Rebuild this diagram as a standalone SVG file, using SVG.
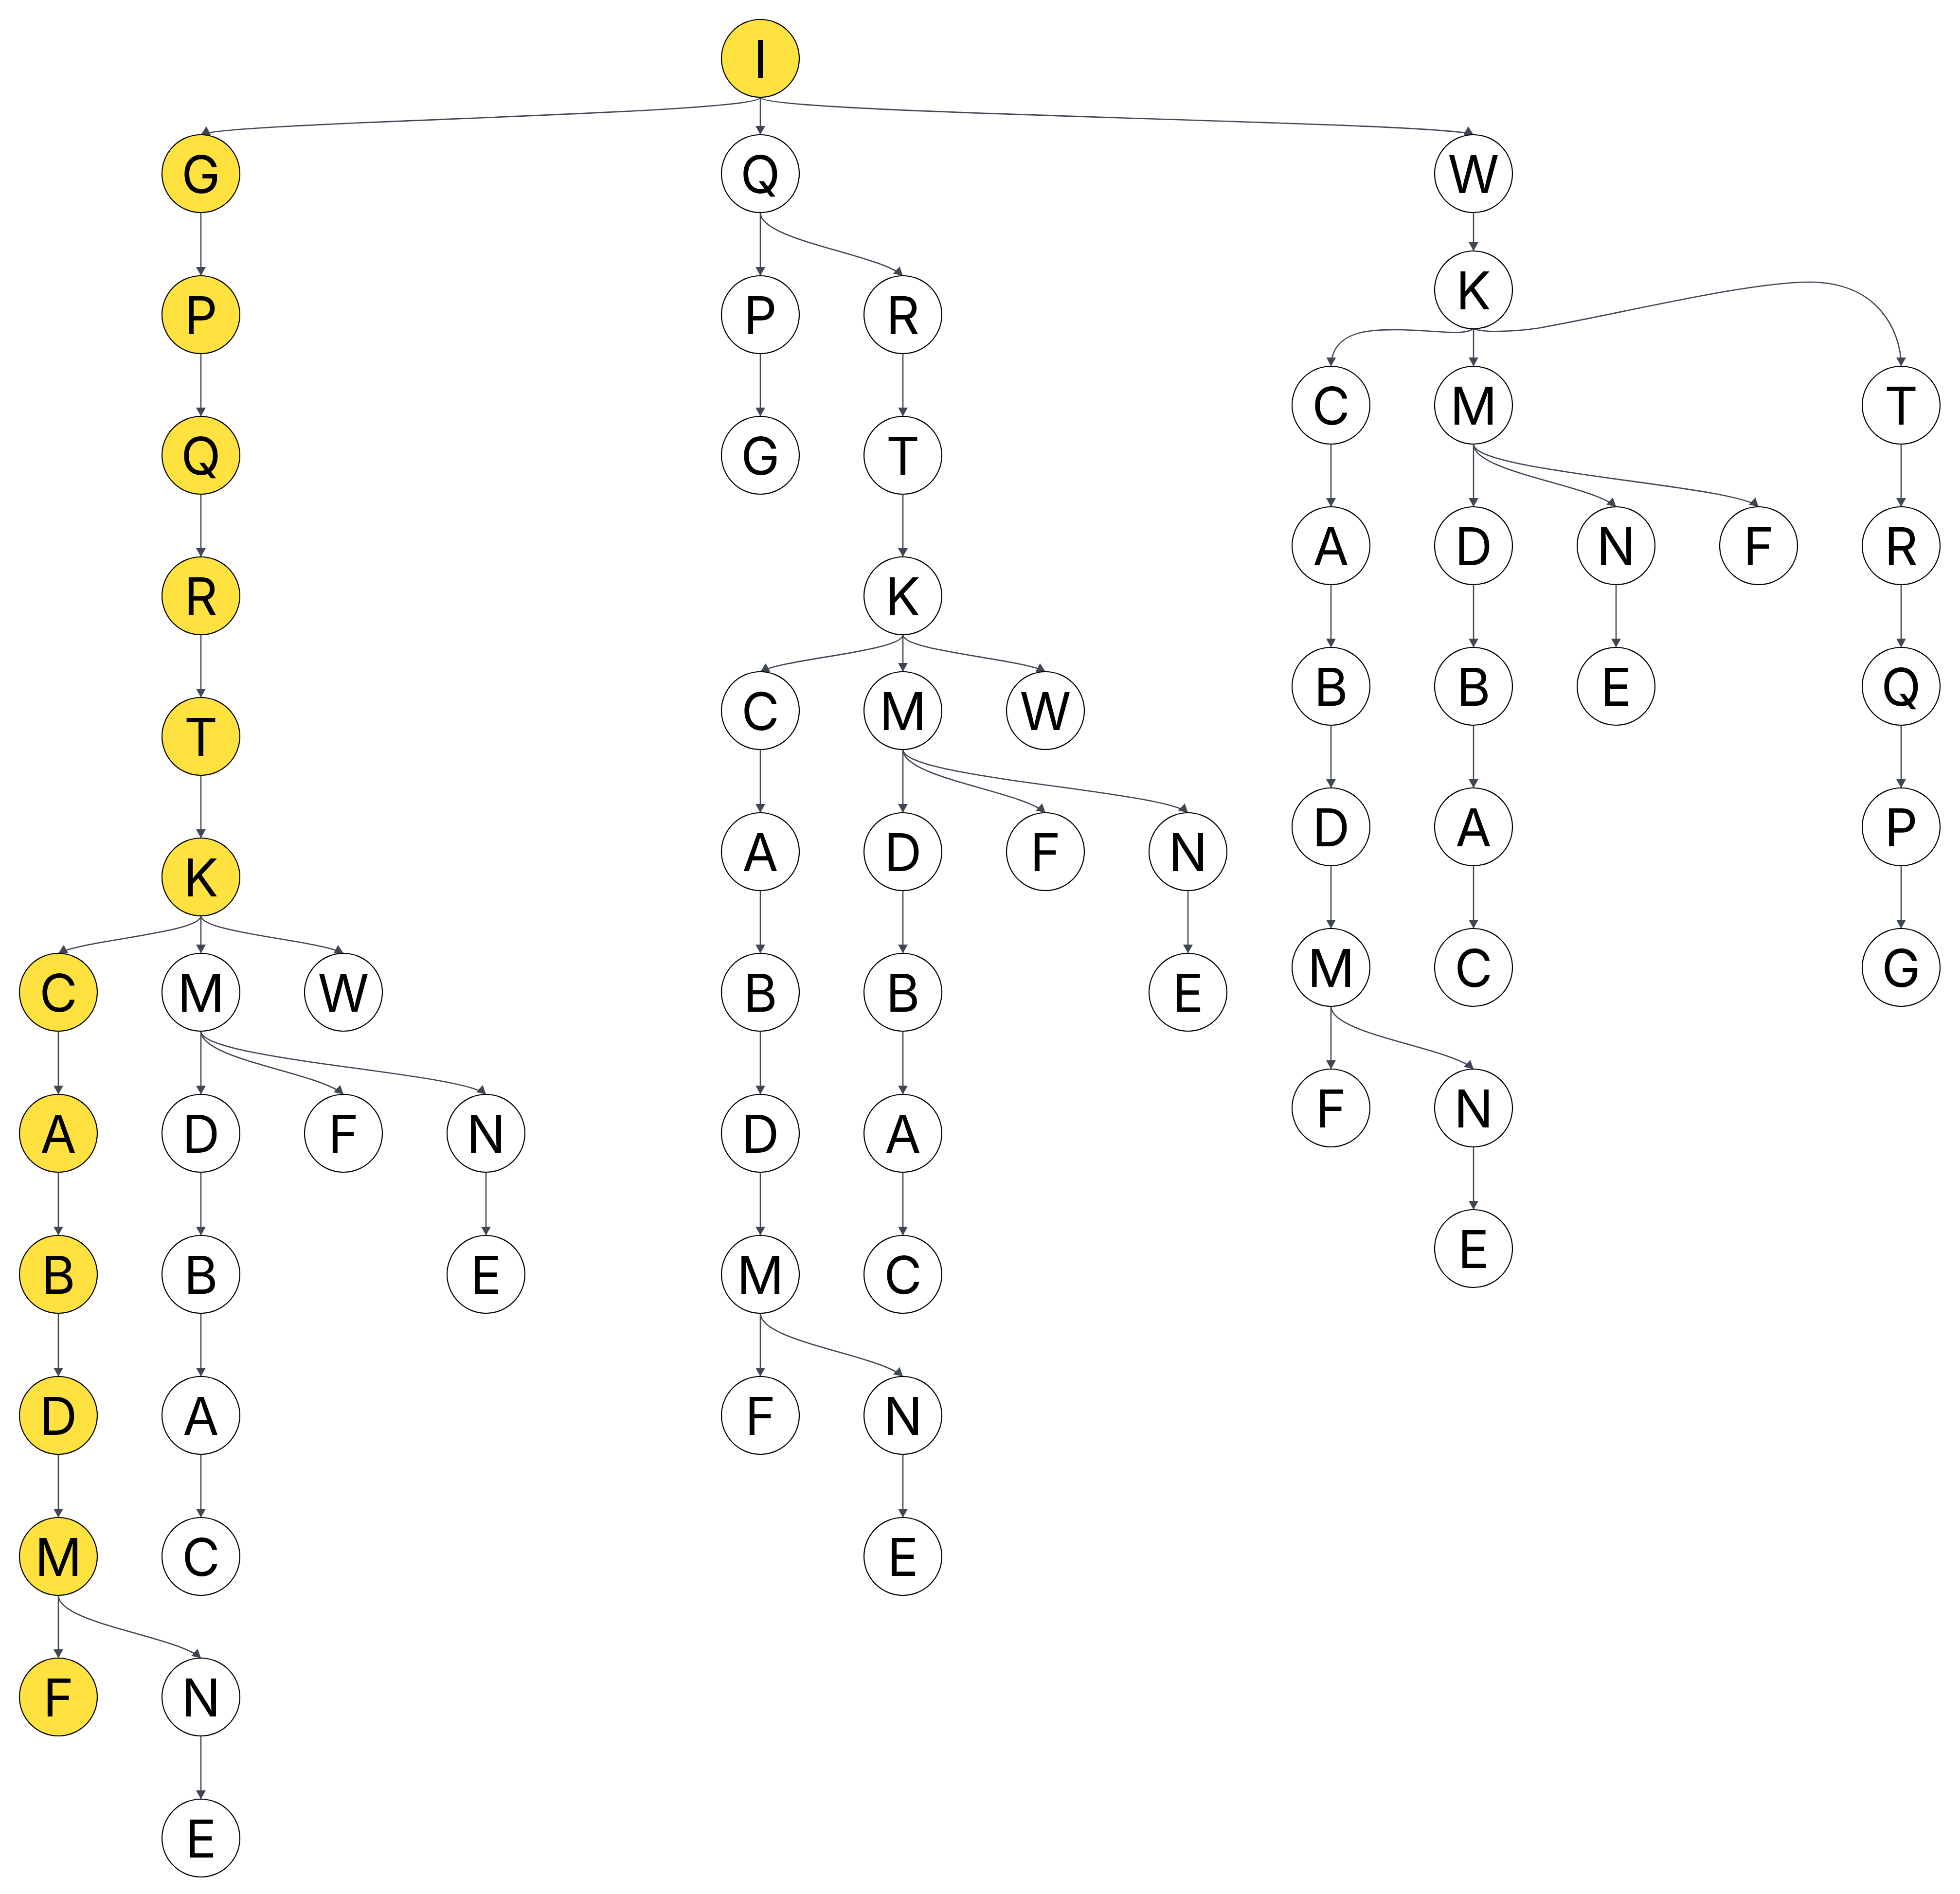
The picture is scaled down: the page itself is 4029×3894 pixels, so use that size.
<svg xmlns="http://www.w3.org/2000/svg" width="4029" height="3894" viewBox="0 0 4029 3894">
<style>
.e{fill:none;stroke:#3f4654;stroke-width:2.6;marker-end:url(#arr)}
.node circle{stroke:#000;stroke-width:2.2}
.y{fill:#ffe240}
.w{fill:#fff}
.node text{font-family:Inter,"Liberation Sans",sans-serif;font-size:107px;text-anchor:middle;fill:#000}
</style>
<defs>
<marker id="arr" markerUnits="userSpaceOnUse" markerWidth="18" markerHeight="20" viewBox="0 0 18 20" refX="18" refY="10" orient="auto">
<path d="M0,0 L18,10 L0,20 z" fill="#3f4654"/>
</marker>
</defs>
<rect width="4029" height="3894" fill="#fff"/>
<g id="connectors">
<path class="e" d="M1563 200C1563 235 463 250 413 277"/>
<path class="e" d="M1563 200V277"/>
<path class="e" d="M1563 200C1563 235 2979 250 3029 277"/>
<path class="e" d="M413 437V567"/>
<path class="e" d="M413 727V856"/>
<path class="e" d="M413 1016V1145"/>
<path class="e" d="M413 1305V1434"/>
<path class="e" d="M413 1594V1723"/>
<path class="e" d="M413 1883C413 1918 170 1933 120 1960"/>
<path class="e" d="M413 1883V1960"/>
<path class="e" d="M413 1883C413 1918 656 1933 706 1960"/>
<path class="e" d="M120 2120V2250"/>
<path class="e" d="M120 2410V2540"/>
<path class="e" d="M120 2700V2830"/>
<path class="e" d="M120 2990V3120"/>
<path class="e" d="M120 3280V3409"/>
<path class="e" d="M120 3280C120 3338 363 3364 413 3409"/>
<path class="e" d="M413 3569V3699"/>
<path class="e" d="M413 2120V2250"/>
<path class="e" d="M413 2120C413 2179 656 2205 706 2250"/>
<path class="e" d="M413 2120C413 2179 949 2205 999 2250"/>
<path class="e" d="M413 2410V2540"/>
<path class="e" d="M413 2700V2830"/>
<path class="e" d="M413 2990V3120"/>
<path class="e" d="M999 2410V2540"/>
<path class="e" d="M1563 437V567"/>
<path class="e" d="M1563 437C1563 495 1806 522 1856 567"/>
<path class="e" d="M1563 727V856"/>
<path class="e" d="M1856 727V856"/>
<path class="e" d="M1856 1016V1145"/>
<path class="e" d="M1856 1305C1856 1339 1613 1354 1563 1381"/>
<path class="e" d="M1856 1305V1381"/>
<path class="e" d="M1856 1305C1856 1339 2099 1354 2149 1381"/>
<path class="e" d="M1563 1541V1671"/>
<path class="e" d="M1563 1831V1960"/>
<path class="e" d="M1563 2120V2250"/>
<path class="e" d="M1563 2410V2540"/>
<path class="e" d="M1563 2700V2830"/>
<path class="e" d="M1563 2700C1563 2759 1806 2785 1856 2830"/>
<path class="e" d="M1856 2990V3120"/>
<path class="e" d="M1856 1541V1671"/>
<path class="e" d="M1856 1541C1856 1600 2099 1626 2149 1671"/>
<path class="e" d="M1856 1541C1856 1600 2392 1626 2442 1671"/>
<path class="e" d="M1856 1831V1960"/>
<path class="e" d="M1856 2120V2250"/>
<path class="e" d="M1856 2410V2540"/>
<path class="e" d="M2442 1831V1960"/>
<path class="e" d="M3029 437V516"/>
<path class="e" d="M3029 676C3015 684 3000 684 2975 683C2920 680 2870 675 2820 680C2760 686 2737 715 2736 753"/>
<path class="e" d="M3029 676V753"/>
<path class="e" d="M3029 676C3050 684 3110 682 3160 675C3330 645 3590 580 3720 580C3860 580 3908 680 3908 753"/>
<path class="e" d="M2736 913V1042"/>
<path class="e" d="M2736 1202V1331"/>
<path class="e" d="M2736 1491V1620"/>
<path class="e" d="M2736 1780V1909"/>
<path class="e" d="M2736 2069V2198"/>
<path class="e" d="M2736 2069C2736 2127 2979 2153 3029 2198"/>
<path class="e" d="M3029 2358V2487"/>
<path class="e" d="M3029 913V1042"/>
<path class="e" d="M3029 913C3029 971 3272 997 3322 1042"/>
<path class="e" d="M3029 913C3029 971 3565 997 3615 1042"/>
<path class="e" d="M3029 1202V1331"/>
<path class="e" d="M3029 1491V1620"/>
<path class="e" d="M3029 1780V1909"/>
<path class="e" d="M3322 1202V1331"/>
<path class="e" d="M3908 913V1042"/>
<path class="e" d="M3908 1202V1331"/>
<path class="e" d="M3908 1491V1620"/>
<path class="e" d="M3908 1780V1909"/>
</g>
<g id="n-I" class="node"><circle class="y" cx="1563" cy="120" r="80"/><text x="1563" y="160">I</text></g>
<g id="L-G" class="node"><circle class="y" cx="413" cy="357" r="80"/><text x="413" y="397">G</text></g>
<g id="L-P" class="node"><circle class="y" cx="413" cy="647" r="80"/><text x="413" y="687">P</text></g>
<g id="L-Q" class="node"><circle class="y" cx="413" cy="936" r="80"/><text x="413" y="976">Q</text></g>
<g id="L-R" class="node"><circle class="y" cx="413" cy="1225" r="80"/><text x="413" y="1265">R</text></g>
<g id="L-T" class="node"><circle class="y" cx="413" cy="1514" r="80"/><text x="413" y="1554">T</text></g>
<g id="L-K" class="node"><circle class="y" cx="413" cy="1803" r="80"/><text x="413" y="1843">K</text></g>
<g id="L-C" class="node"><circle class="y" cx="120" cy="2040" r="80"/><text x="120" y="2080">C</text></g>
<g id="L-M" class="node"><circle class="w" cx="413" cy="2040" r="80"/><text x="413" y="2080">M</text></g>
<g id="L-W" class="node"><circle class="w" cx="706" cy="2040" r="80"/><text x="706" y="2080">W</text></g>
<g id="L-A" class="node"><circle class="y" cx="120" cy="2330" r="80"/><text x="120" y="2370">A</text></g>
<g id="L-MD" class="node"><circle class="w" cx="413" cy="2330" r="80"/><text x="413" y="2370">D</text></g>
<g id="L-MF" class="node"><circle class="w" cx="706" cy="2330" r="80"/><text x="706" y="2370">F</text></g>
<g id="L-MN" class="node"><circle class="w" cx="999" cy="2330" r="80"/><text x="999" y="2370">N</text></g>
<g id="L-B" class="node"><circle class="y" cx="120" cy="2620" r="80"/><text x="120" y="2660">B</text></g>
<g id="L-MDB" class="node"><circle class="w" cx="413" cy="2620" r="80"/><text x="413" y="2660">B</text></g>
<g id="L-MNE" class="node"><circle class="w" cx="999" cy="2620" r="80"/><text x="999" y="2660">E</text></g>
<g id="L-D" class="node"><circle class="y" cx="120" cy="2910" r="80"/><text x="120" y="2950">D</text></g>
<g id="L-MDBA" class="node"><circle class="w" cx="413" cy="2910" r="80"/><text x="413" y="2950">A</text></g>
<g id="L-M2" class="node"><circle class="y" cx="120" cy="3200" r="80"/><text x="120" y="3240">M</text></g>
<g id="L-MDBAC" class="node"><circle class="w" cx="413" cy="3200" r="80"/><text x="413" y="3240">C</text></g>
<g id="L-F" class="node"><circle class="y" cx="120" cy="3489" r="80"/><text x="120" y="3529">F</text></g>
<g id="L-N" class="node"><circle class="w" cx="413" cy="3489" r="80"/><text x="413" y="3529">N</text></g>
<g id="L-E" class="node"><circle class="w" cx="413" cy="3779" r="80"/><text x="413" y="3819">E</text></g>
<g id="M-Q" class="node"><circle class="w" cx="1563" cy="357" r="80"/><text x="1563" y="397">Q</text></g>
<g id="M-P" class="node"><circle class="w" cx="1563" cy="647" r="80"/><text x="1563" y="687">P</text></g>
<g id="M-R" class="node"><circle class="w" cx="1856" cy="647" r="80"/><text x="1856" y="687">R</text></g>
<g id="M-G" class="node"><circle class="w" cx="1563" cy="936" r="80"/><text x="1563" y="976">G</text></g>
<g id="M-T" class="node"><circle class="w" cx="1856" cy="936" r="80"/><text x="1856" y="976">T</text></g>
<g id="M-K" class="node"><circle class="w" cx="1856" cy="1225" r="80"/><text x="1856" y="1265">K</text></g>
<g id="M-C" class="node"><circle class="w" cx="1563" cy="1461" r="80"/><text x="1563" y="1501">C</text></g>
<g id="M-M" class="node"><circle class="w" cx="1856" cy="1461" r="80"/><text x="1856" y="1501">M</text></g>
<g id="M-W" class="node"><circle class="w" cx="2149" cy="1461" r="80"/><text x="2149" y="1501">W</text></g>
<g id="M-A" class="node"><circle class="w" cx="1563" cy="1751" r="80"/><text x="1563" y="1791">A</text></g>
<g id="M-MD" class="node"><circle class="w" cx="1856" cy="1751" r="80"/><text x="1856" y="1791">D</text></g>
<g id="M-MF" class="node"><circle class="w" cx="2149" cy="1751" r="80"/><text x="2149" y="1791">F</text></g>
<g id="M-MN" class="node"><circle class="w" cx="2442" cy="1751" r="80"/><text x="2442" y="1791">N</text></g>
<g id="M-B" class="node"><circle class="w" cx="1563" cy="2040" r="80"/><text x="1563" y="2080">B</text></g>
<g id="M-MDB" class="node"><circle class="w" cx="1856" cy="2040" r="80"/><text x="1856" y="2080">B</text></g>
<g id="M-MNE" class="node"><circle class="w" cx="2442" cy="2040" r="80"/><text x="2442" y="2080">E</text></g>
<g id="M-D" class="node"><circle class="w" cx="1563" cy="2330" r="80"/><text x="1563" y="2370">D</text></g>
<g id="M-MDBA" class="node"><circle class="w" cx="1856" cy="2330" r="80"/><text x="1856" y="2370">A</text></g>
<g id="M-M2" class="node"><circle class="w" cx="1563" cy="2620" r="80"/><text x="1563" y="2660">M</text></g>
<g id="M-MDBAC" class="node"><circle class="w" cx="1856" cy="2620" r="80"/><text x="1856" y="2660">C</text></g>
<g id="M-F" class="node"><circle class="w" cx="1563" cy="2910" r="80"/><text x="1563" y="2950">F</text></g>
<g id="M-N" class="node"><circle class="w" cx="1856" cy="2910" r="80"/><text x="1856" y="2950">N</text></g>
<g id="M-E" class="node"><circle class="w" cx="1856" cy="3200" r="80"/><text x="1856" y="3240">E</text></g>
<g id="R-W" class="node"><circle class="w" cx="3029" cy="357" r="80"/><text x="3029" y="397">W</text></g>
<g id="R-K" class="node"><circle class="w" cx="3029" cy="596" r="80"/><text x="3029" y="636">K</text></g>
<g id="R-C" class="node"><circle class="w" cx="2736" cy="833" r="80"/><text x="2736" y="873">C</text></g>
<g id="R-M" class="node"><circle class="w" cx="3029" cy="833" r="80"/><text x="3029" y="873">M</text></g>
<g id="R-T" class="node"><circle class="w" cx="3908" cy="833" r="80"/><text x="3908" y="873">T</text></g>
<g id="R-A" class="node"><circle class="w" cx="2736" cy="1122" r="80"/><text x="2736" y="1162">A</text></g>
<g id="R-MD" class="node"><circle class="w" cx="3029" cy="1122" r="80"/><text x="3029" y="1162">D</text></g>
<g id="R-MN" class="node"><circle class="w" cx="3322" cy="1122" r="80"/><text x="3322" y="1162">N</text></g>
<g id="R-MF" class="node"><circle class="w" cx="3615" cy="1122" r="80"/><text x="3615" y="1162">F</text></g>
<g id="R-R" class="node"><circle class="w" cx="3908" cy="1122" r="80"/><text x="3908" y="1162">R</text></g>
<g id="R-B" class="node"><circle class="w" cx="2736" cy="1411" r="80"/><text x="2736" y="1451">B</text></g>
<g id="R-MDB" class="node"><circle class="w" cx="3029" cy="1411" r="80"/><text x="3029" y="1451">B</text></g>
<g id="R-MNE" class="node"><circle class="w" cx="3322" cy="1411" r="80"/><text x="3322" y="1451">E</text></g>
<g id="R-Q" class="node"><circle class="w" cx="3908" cy="1411" r="80"/><text x="3908" y="1451">Q</text></g>
<g id="R-D" class="node"><circle class="w" cx="2736" cy="1700" r="80"/><text x="2736" y="1740">D</text></g>
<g id="R-MDBA" class="node"><circle class="w" cx="3029" cy="1700" r="80"/><text x="3029" y="1740">A</text></g>
<g id="R-P" class="node"><circle class="w" cx="3908" cy="1700" r="80"/><text x="3908" y="1740">P</text></g>
<g id="R-M2" class="node"><circle class="w" cx="2736" cy="1989" r="80"/><text x="2736" y="2029">M</text></g>
<g id="R-MDBAC" class="node"><circle class="w" cx="3029" cy="1989" r="80"/><text x="3029" y="2029">C</text></g>
<g id="R-G" class="node"><circle class="w" cx="3908" cy="1989" r="80"/><text x="3908" y="2029">G</text></g>
<g id="R-F" class="node"><circle class="w" cx="2736" cy="2278" r="80"/><text x="2736" y="2318">F</text></g>
<g id="R-N" class="node"><circle class="w" cx="3029" cy="2278" r="80"/><text x="3029" y="2318">N</text></g>
<g id="R-E" class="node"><circle class="w" cx="3029" cy="2567" r="80"/><text x="3029" y="2607">E</text></g>
</svg>
